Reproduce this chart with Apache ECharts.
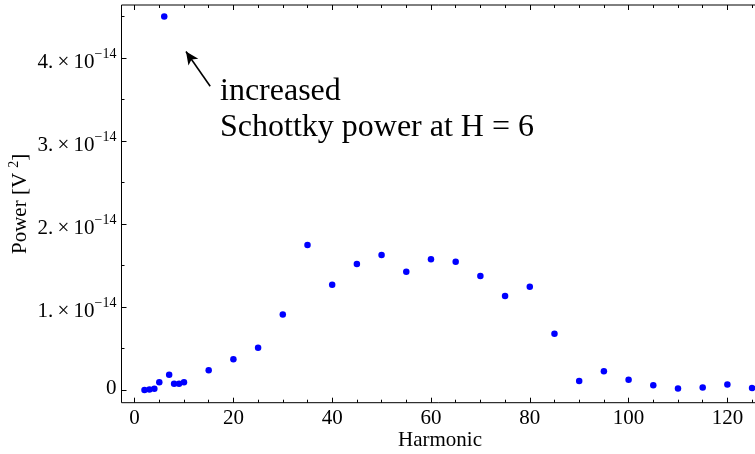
<!DOCTYPE html>
<html>
<head>
<meta charset="utf-8">
<script src="https://cdn.jsdelivr.net/npm/echarts@6/dist/echarts.min.js"></script>
<style>html,body{margin:0;padding:0;background:#fff;}#c{width:755px;height:454px;}</style>
</head>
<body>
<div id="c"></div>
<script>
// Harmonic numbers
const harmonics = [2,3,4,5,6,7,8,9,10,15,20,25,30,35,40,45,50,55,60,65,70,75,80,85,90,95,100,105,110,115,120,125];
// Power in V^2
const power = [0.000e-14,0.005e-14,0.016e-14,0.093e-14,4.50e-14,0.184e-14,0.076e-14,0.076e-14,0.093e-14,0.237e-14,0.37e-14,0.51e-14,0.91e-14,1.747e-14,1.269e-14,1.52e-14,1.627e-14,1.425e-14,1.575e-14,1.546e-14,1.373e-14,1.133e-14,1.245e-14,0.678e-14,0.11e-14,0.225e-14,0.125e-14,0.058e-14,0.018e-14,0.03e-14,0.065e-14,0.025e-14];
// tick values
const xTicks = [0,20,40,60,80,100,120];
const xMinorTicks = [5,10,15,25,30,35,45,50,55,65,70,75,85,90,95,105,110,115,125];
const yTicks = [0,1e-14,2e-14,3e-14,4e-14];
const yMinorTicks = [0.5e-14,1.5e-14,2.5e-14,3.5e-14,4.5e-14];
// annotation
const annotationLines = ['increased','Schottky power at H = 6'];
const arrowFrom = [15.3, 3.66e-14];
const arrowTo = [10.4, 4.08e-14];

const FONT = '"Liberation Serif", "Times New Roman", serif';
const XMIN = -2.65, XMAX = 126.3, YMIN = -0.153e-14, YMAX = 4.64e-14;

function yLabel(v){
  if (Math.abs(v) < 1e-20) return '{z|0}';
  return '{m|' + Math.round(v/1e-14) + '.\u2009\u00d7\u200910}{s|\u221214}';
}
const richY = {
  z:{fontFamily:FONT,fontSize:21,color:'#000',padding:[0,0,3,0]},
  m:{fontFamily:FONT,fontSize:21,color:'#000',padding:[8,0,0,0]},
  s:{fontFamily:FONT,fontSize:14,color:'#000',padding:[0,0,8,0]}
};
function xAxisDef(pos, values, len, labels, extra){
  return Object.assign({
    type:'value', position:pos, min:XMIN, max:XMAX,
    axisLine:{show:false, onZero:false},
    axisTick:{show:true, inside:true, length:len, customValues:values, lineStyle:{color:'#000',width:1}},
    axisLabel:{show:labels, customValues:values, fontFamily:FONT, fontSize:21, color:'#000', margin:5},
    splitLine:{show:false}
  }, extra||{});
}
function yAxisDef(values, len, labels, extra){
  return Object.assign({
    type:'value', position:'left', min:YMIN, max:YMAX,
    axisLine:{show:false, onZero:false},
    axisTick:{show:true, inside:true, length:len, customValues:values, lineStyle:{color:'#000',width:1}},
    axisLabel:{show:labels, customValues:values, formatter:yLabel, rich:richY, margin:5},
    splitLine:{show:false}
  }, extra||{});
}

const chart = echarts.init(document.getElementById('c'), null, {renderer:'canvas'});
chart.setOption({
  animation:false,
  backgroundColor:'#fff',
  grid:{left:121.5, top:5, right:-3.5, bottom:51.3, containLabel:false, outerBoundsMode:'none',
        show:true, borderColor:'#000', borderWidth:1, backgroundColor:'transparent'},
  xAxis:[
    xAxisDef('bottom', xTicks, 5, true, {name:'Harmonic', nameLocation:'middle', nameGap:27, nameMoveOverlap:false,
      nameTextStyle:{fontFamily:FONT,fontSize:21,color:'#000'}}),
    xAxisDef('bottom', xMinorTicks, 3, false),
    xAxisDef('top', xTicks, 5, false),
    xAxisDef('top', xMinorTicks, 3, false)
  ],
  yAxis:[
    yAxisDef(yTicks, 5, true, {name:'{m|Power [V }{s|2}{m|]}', nameLocation:'middle', nameGap:89, nameMoveOverlap:false,
      nameTextStyle:{rich:{m:{fontFamily:FONT,fontSize:21,color:'#000'},s:{fontFamily:FONT,fontSize:14,color:'#000',padding:[0,0,11,0]}}}}),
    yAxisDef(yMinorTicks, 3, false)
  ],
  series:[{
    type:'scatter',
    xAxisIndex:0, yAxisIndex:0,
    data:harmonics.map((h,i)=>[h,power[i]]),
    symbol:'circle', symbolSize:6.5,
    itemStyle:{color:'#0000ff', opacity:1},
    silent:true,
    markLine:{
      silent:true, symbol:['none','arrow'], symbolSize:[9,13],
      lineStyle:{color:'#000', width:1.6, type:'solid'},
      label:{show:false},
      data:[[{coord:arrowFrom},{coord:arrowTo}]]
    }
  }],
  graphic:[
    {type:'text', left:220, top:76, style:{text:annotationLines[0], font:'32px ' + FONT, fill:'#000'}},
    {type:'text', left:220, top:112, style:{text:annotationLines[1], font:'32px ' + FONT, fill:'#000'}}
  ]
});
</script>
</body>
</html>
